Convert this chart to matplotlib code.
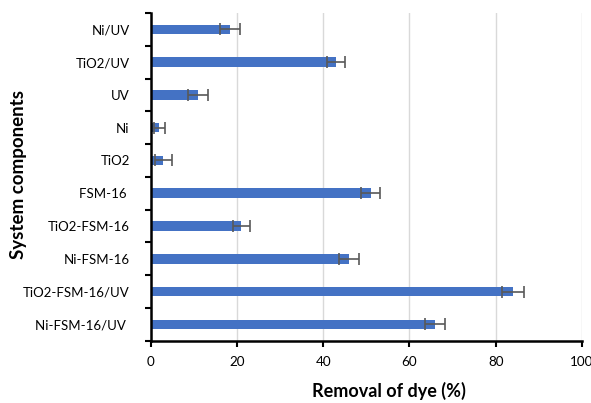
import matplotlib
matplotlib.use("Agg")
from matplotlib import pyplot as plt

categories = ["Ni-FSM-16/UV ", "TiO2-FSM-16/UV", "Ni-FSM-16", "TiO2-FSM-16", "FSM-16 ",
              "TiO2", "Ni", "UV", "TiO2/UV", "Ni/UV"]
removal = [66.0, 84.0, 46.0, 21.0, 51.0, 3.0, 2.0, 11.0, 43.0, 18.5]
errors = [2.3, 2.5, 2.4, 2.0, 2.2, 1.9, 1.3, 2.4, 2.0, 2.3]
x_ticks = [0, 20, 40, 60, 80, 100]

plt.rcParams['font.family'] = ['Lato', 'DejaVu Sans']

fig = plt.figure(figsize=(5.91, 4.03), dpi=100)
ax = fig.add_axes([0.2547, 0.1546, 0.7301, 0.8131])

pos = list(range(len(categories)))
ax.barh(pos, removal, height=0.29, color="#4472C4", zorder=2,
        xerr=errors, error_kw=dict(ecolor="#595959", elinewidth=1.2, capsize=4, capthick=1.2))

ax.set_xlim(0, 100)
ax.set_ylim(-0.5, len(categories) - 0.5)
ax.set_xticks(x_ticks)
ax.set_xticklabels([str(t) for t in x_ticks])
ax.set_yticks(pos)
ax.set_yticklabels(categories)
ax.set_yticks([p + 0.5 for p in range(-1, len(categories))], minor=True)
ax.tick_params(axis="y", which="major", length=0, labelsize=9.5, pad=15)
ax.tick_params(axis="y", which="minor", length=4, width=1.5, direction="out")
ax.tick_params(axis="x", length=4, width=1.5, labelsize=9.7, pad=7)

ax.grid(axis="x", color="#D9D9D9", linewidth=1, zorder=0)
for side in ["top", "right"]:
    ax.spines[side].set_visible(False)
for side in ["left", "bottom"]:
    ax.spines[side].set_linewidth(1.8)

ax.set_xlabel("Removal of dye (%)", fontsize=13, fontweight="bold")
ax.xaxis.set_label_coords(0.553, -0.125)
ax.set_ylabel("System components", fontsize=13.5, fontweight="bold")
ax.yaxis.set_label_coords(-0.286, 0.506)

fig.savefig("out.png", dpi=100)
